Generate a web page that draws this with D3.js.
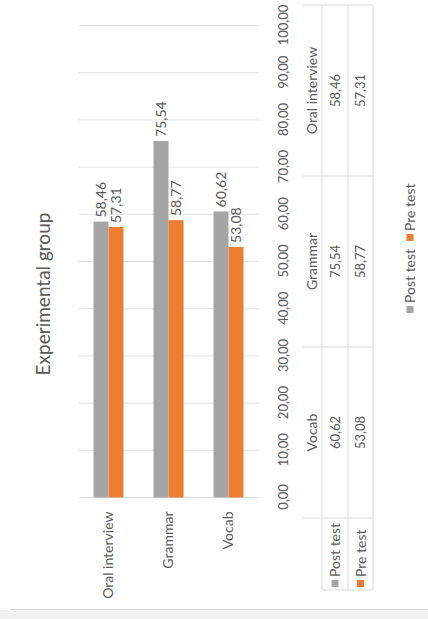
<!DOCTYPE html>
<html>
<head>
<meta charset="utf-8">
<script src="https://cdn.jsdelivr.net/npm/d3@7"></script>
<style>
  html, body { margin: 0; padding: 0; background: #ffffff; }
  svg { display: block; }
  text { font-family: Lato, "Open Sans", sans-serif; fill: #595959; }
</style>
</head>
<body>
<script>
// ---- data ----
const title = "Experimental group";
const categories = ["Vocab", "Grammar", "Oral interview"];
const seriesNames = ["Post test", "Pre test"];
const postTest = [60.62, 75.54, 58.46];
const preTest = [53.08, 58.77, 57.31];
const valueTicks = [0, 10, 20, 30, 40, 50, 60, 70, 80, 90, 100];
const seriesColors = ["#A5A5A5", "#ED7D31"];

const W = 428, H = 619;
const locale = d3.formatLocale({decimal: ",", thousands: ".", grouping: [3], currency: ["", ""]});
const fmt = locale.format(".2f");
const seriesValues = [postTest, preTest];

const svg = d3.select("body").append("svg").attr("width", W).attr("height", H);
svg.append("rect").attr("width", W).attr("height", H).attr("fill", "#ffffff");
svg.append("rect").attr("x", 0).attr("y", 610).attr("width", W).attr("height", H - 610).attr("fill", "#f1f1f1");
svg.append("line").attr("x1", 10).attr("x2", W).attr("y1", 609.5).attr("y2", 609.5).attr("stroke", "#d4d4d4");

// the whole chart is drawn rotated 90° counter-clockwise
const g = svg.append("g").attr("transform", `translate(0,${H}) rotate(-90)`);

const x = d3.scaleLinear().domain([0, 100]).range([121.5, 593.5]);
const y = d3.scaleBand().domain(categories.slice().reverse()).range([78.5, 258.5])
  .paddingInner(0.5).paddingOuter(0.25);
const ys = d3.scaleBand().domain(seriesNames).range([0, y.bandwidth()]);
const color = d3.scaleOrdinal().domain(seriesNames).range(seriesColors);

// title
g.append("text").attr("x", 325).attr("y", 50).attr("text-anchor", "middle")
  .style("font-size", "19px").text(title);

// gridlines
g.append("g").selectAll("line").data(valueTicks).join("line")
  .attr("x1", d => x(d)).attr("x2", d => x(d))
  .attr("y1", 78.5).attr("y2", 259)
  .attr("stroke", "#e3e3e3").attr("stroke-width", 1);

// value axis
const xAxis = g.append("g").attr("transform", "translate(0,277)")
  .call(d3.axisBottom(x).tickValues(valueTicks).tickFormat(fmt).tickSize(0).tickPadding(2));
xAxis.select(".domain").remove();
xAxis.selectAll("text").style("font-size", "13px").style("font-family", "Lato, sans-serif").attr("fill", "#595959");

// category axis
const yAxis = g.append("g").attr("transform", `translate(${x(0)},0)`)
  .call(d3.axisLeft(y).tickSize(0).tickPadding(14));
yAxis.select(".domain").remove();
yAxis.selectAll("text").style("font-size", "14px").style("font-family", "Lato, sans-serif").attr("fill", "#595959");

// bars
const rows = categories.map((c, i) => seriesNames.map((s, j) => ({cat: c, series: s, value: seriesValues[j][i]}))).flat();
g.append("g").selectAll("rect").data(rows).join("rect")
  .attr("x", x(0))
  .attr("y", d => y(d.cat) + ys(d.series))
  .attr("width", d => x(d.value) - x(0))
  .attr("height", ys.bandwidth())
  .attr("fill", d => color(d.series));

// data labels
g.append("g").selectAll("text").data(rows).join("text")
  .attr("x", d => x(d.value) + 4)
  .attr("y", d => y(d.cat) + ys(d.series) + ys.bandwidth() / 2)
  .attr("dy", "0.35em")
  .style("font-size", "14px")
  .text(d => fmt(d.value));

// data table
const col = d3.scaleBand().domain(categories).range([101, 614]);
const rowV = [303, 322, 348, 373];
const tbl = g.append("g").attr("stroke", "#d9d9d9").attr("stroke-width", 1);
[322, 348, 373].forEach(v => {
  tbl.append("line").attr("x1", 29).attr("x2", 614).attr("y1", v).attr("y2", v);
});
tbl.append("line").attr("x1", 29).attr("x2", 29).attr("y1", 322).attr("y2", 373);
col.domain().forEach(c => {
  tbl.append("line").attr("x1", col(c)).attr("x2", col(c)).attr("y1", 303).attr("y2", 373);
});
tbl.append("line").attr("x1", 614).attr("x2", 614).attr("y1", 303).attr("y2", 373);

const tt = g.append("g").attr("text-anchor", "middle");
categories.forEach((c, i) => {
  const cx = col(c) + col.bandwidth() / 2;
  tt.append("text").attr("x", cx).attr("y", 317).style("font-size", "14px").text(c);
  tt.append("text").attr("x", cx).attr("y", 340).style("font-size", "13px").text(fmt(postTest[i]));
  tt.append("text").attr("x", cx).attr("y", 365).style("font-size", "13px").text(fmt(preTest[i]));
});
seriesNames.forEach((s, j) => {
  const vc = (rowV[j + 1] + rowV[j + 2]) / 2;
  g.append("rect").attr("x", 32).attr("y", vc - 3.5).attr("width", 7).attr("height", 7).attr("fill", color(s));
  g.append("text").attr("x", 42).attr("y", vc + 5).style("font-size", "14px").text(s);
});

// legend
const lg = g.append("g").attr("transform", "translate(0,410)");
const legendX = [306, 378];
seriesNames.forEach((s, j) => {
  lg.append("rect").attr("x", legendX[j]).attr("y", -3.5).attr("width", 7).attr("height", 7).attr("fill", color(s));
  lg.append("text").attr("x", legendX[j] + 10).attr("y", 5).style("font-size", "14px").text(s);
});
</script>
</body>
</html>
